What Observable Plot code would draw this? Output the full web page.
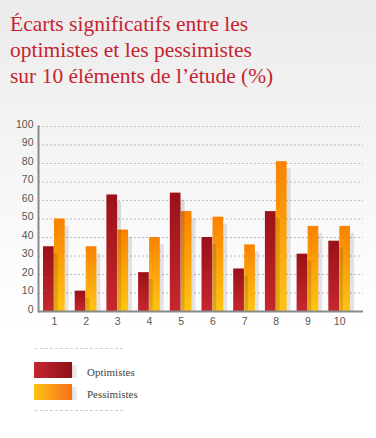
<!DOCTYPE html>
<html><head><meta charset="utf-8">
<script src="https://cdn.jsdelivr.net/npm/d3@7"></script>
<script src="https://cdn.jsdelivr.net/npm/@observablehq/plot@0.6"></script>
<style>
html,body{margin:0;padding:0;}
body{width:376px;height:438px;overflow:hidden;position:relative;background:linear-gradient(#ebebeb 0px,#f2f2f2 110px,#fbfbfb 260px,#fff 330px);}
#title{position:absolute;left:10px;top:11px;font-family:"Liberation Serif",serif;font-size:21.5px;line-height:26px;color:#c62430;white-space:nowrap;}
#chart{position:absolute;left:0;top:110px;}
.dash{position:absolute;left:35px;width:88px;border-top:1px dashed #cfcfcf;height:0;}
.sw{position:absolute;left:34px;width:38px;height:16px;}
.sh{position:absolute;left:72px;width:5px;height:13px;background:linear-gradient(90deg,#ddd,#f4f4f4);}
.lt{position:absolute;left:87px;font-family:"Liberation Serif",serif;font-size:11px;color:#444;line-height:13px;}
</style></head>
<body>
<div id="title">Écarts significatifs entre les<br>optimistes et les pessimistes<br>sur 10 éléments de l’étude (%)</div>
<div id="chart"></div>
<div id="legend"></div>
<script>
const groups = ["1","2","3","4","5","6","7","8","9","10"];
const optimistes = [35, 11, 63, 21, 64, 40, 23, 54, 31, 38];
const pessimistes = [50, 35, 44, 40, 54, 51, 36, 81, 46, 46];
const yTicks = [0,10,20,30,40,50,60,70,80,90,100];
const seriesNames = ["Optimistes", "Pessimistes"];

const data = groups.map((g, i) => ({g, opt: optimistes[i], pess: pessimistes[i]}));

const svg = Plot.plot({
  width: 376, height: 225,
  marginTop: 16, marginBottom: 24, marginLeft: 38, marginRight: 13,
  style: {background: "transparent", fontFamily: "Liberation Sans, Arial, sans-serif", fontSize: "10.5px", color: "#555", overflow: "visible"},
  x: {domain: groups, range: [43, 350], paddingInner: 0.3155, paddingOuter: 0, round: false, label: null},
  y: {domain: [0, 100], label: null},
  marks: [
    Plot.gridY(yTicks, {stroke: "#bdbdbd", strokeOpacity: 1, strokeDasharray: "2,2"}),
    Plot.barY(data, {x: "g", y: "pess", insetLeft: 11, dx: 4, insetTop: 7, fill: "#000", fillOpacity: 0.1}),
    Plot.barY(data, {x: "g", y: "pess", insetLeft: 11, fill: "url(#gradPess)"}),
    Plot.barY(data, {x: "g", y: "opt", insetRight: 11, dx: 4, insetTop: 7, fill: "#000", fillOpacity: 0.12}),
    Plot.barY(data, {x: "g", y: "opt", insetRight: 11, fill: "url(#gradOpt)"}),
    Plot.frame({anchor: "left", stroke: "#8a8a8a", strokeWidth: 2}),
    Plot.ruleY([0], {stroke: "#8a8a8a", strokeWidth: 2}),
    Plot.axisY(yTicks, {tickSize: 0, tickPadding: 5, fill: "#555", dy: -2, label: null}),
    Plot.axisX({tickSize: 0, tickPadding: 6, fill: "#555", label: null})
  ]
});
d3.select(svg).insert("defs", ":first-child").html(
  '<linearGradient id="gradOpt" x1="0" y1="0" x2="0" y2="1"><stop offset="0" stop-color="#9a1117"/><stop offset="1" stop-color="#c6272f"/></linearGradient>' +
  '<linearGradient id="gradPess" x1="0" y1="0" x2="0" y2="1"><stop offset="0" stop-color="#fa8200"/><stop offset="1" stop-color="#ffc414"/></linearGradient>'
);
document.getElementById("chart").appendChild(svg);

const legend = document.getElementById("legend");
const sw = ["linear-gradient(90deg,#c4262e,#8f1218)", "linear-gradient(90deg,#ffc214,#f5701a)"];
legend.innerHTML =
  '<div class="dash" style="top:348px"></div>' +
  seriesNames.map((n, i) =>
    `<div class="sh" style="top:${365 + i*22}px"></div>` +
    `<div class="sw" style="top:${362 + i*22}px;background:${sw[i]}"></div>` +
    `<div class="lt" style="top:${366 + i*22}px">${n}</div>`).join("") +
  '<div class="dash" style="top:410px"></div>';
</script>
</body></html>
